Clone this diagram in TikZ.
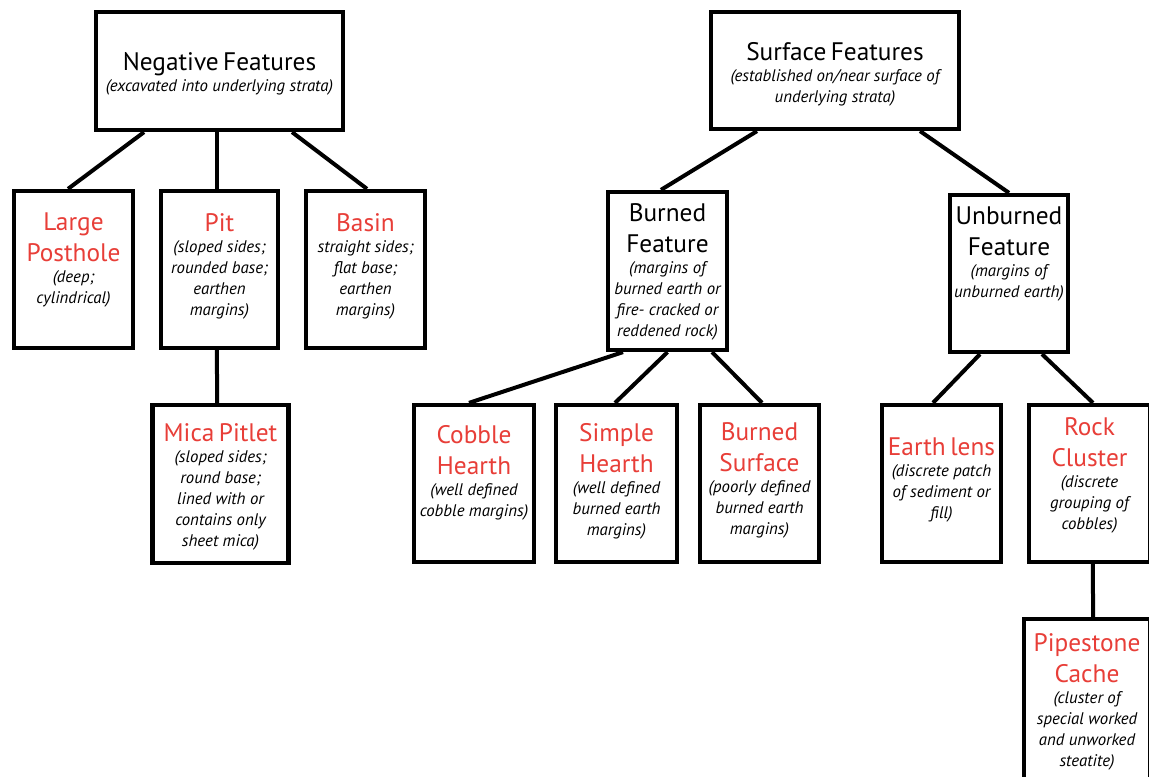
\documentclass[tikz,border=0pt]{standalone}
\usepackage{fontspec}
\setmainfont{PT Sans}
\usepackage{tikz}
\usetikzlibrary{positioning}
\definecolor{featred}{RGB}{232,62,56}
\newcommand\ftitle[1]{{\fontsize{19}{23.25}\selectfont #1\par}}
\newcommand\rtitle[1]{{\color{featred}\ftitle{#1}}}
\newcommand\fnote[1]{{\fontsize{12.6}{15.75}\selectfont\itshape #1\par}}

\begin{document}
\begin{tikzpicture}[x=0.75pt,y=-0.75pt,
  fbox/.style={draw, line width=3.2pt, inner sep=0pt},
  ftext/.style={inner sep=0pt, text width=120pt, align=center},
  link/.style={line width=3pt}]
\useasboundingbox[fill=white] (0,0) rectangle (1149,777);
\clip (0,0) rectangle (1149,777);
% boxes
\node[fbox, minimum width=185.25pt, minimum height=88.5pt] (neg) at (219.5,71) {};
\node[fbox, minimum width=89.25pt, minimum height=117.75pt] (post) at (73.5,269.5) {};
\node[fbox, minimum width=87.75pt, minimum height=117.75pt] (pit) at (219.5,269.5) {};
\node[fbox, minimum width=89.25pt, minimum height=117.75pt] (basin) at (365.5,269.5) {};
\node[fbox, minimum width=102pt, minimum height=118.5pt] (mica) at (220.5,484) {};
\node[fbox, minimum width=186pt, minimum height=87.75pt] (surf) at (835,70.5) {};
\node[fbox, minimum width=89.25pt, minimum height=118.5pt] (burn) at (667.5,271) {};
\node[fbox, minimum width=88.5pt, minimum height=117.75pt] (unb) at (1009,273.5) {};
\node[fbox, minimum width=90pt, minimum height=117.75pt] (cob) at (474,483.5) {};
\node[fbox, minimum width=90.75pt, minimum height=117.75pt] (simp) at (616.5,483.5) {};
\node[fbox, minimum width=89.25pt, minimum height=117.75pt] (bsurf) at (759.5,483.5) {};
\node[fbox, minimum width=89.25pt, minimum height=117.75pt] (earth) at (941.5,483.5) {};
\node[fbox, minimum width=90.75pt, minimum height=117.75pt] (rock) at (1089.5,483.5) {};
\node[fbox, minimum width=94.5pt, minimum height=126.75pt] (pipe) at (1087,703.5) {};
% texts
\node[ftext, text width=185pt, below=31.5pt of neg.north] (neg-t) {\ftitle{Negative Features}\fnote{(excavated into underlying strata)}};
\node[ftext, text width=185pt, below=24pt of surf.north] (surf-t) {\ftitle{Surface Features}\fnote{(established on/near surface of\\underlying strata)}};
\node[ftext, below=18pt of post.north] (post-t) {\rtitle{Large\\Posthole}\fnote{(deep;\\cylindrical)}};
\node[ftext, below=18pt of pit.north] (pit-t) {\rtitle{Pit}\fnote{(sloped sides;\\rounded base;\\earthen\\margins)}};
\node[ftext, below=18pt of basin.north] (basin-t) {\rtitle{Basin}\fnote{straight sides;\\flat base;\\earthen\\margins)}};
\node[ftext, below=15pt of mica.north] (mica-t) {\rtitle{Mica Pitlet}\fnote{(sloped sides;\\round base;\\lined with or\\contains only\\sheet mica)}};
\node[ftext, below=9.75pt of burn.north] (burn-t) {\ftitle{Burned\\Feature}\fnote{(margins of\\burned earth or\\fire- cracked or\\reddened rock)}};
\node[ftext, below=10.5pt of unb.north] (unb-t) {\ftitle{Unburned\\Feature}\fnote{(margins of\\unburned earth)}};
\node[ftext, below=16.5pt of cob.north] (cob-t) {\rtitle{Cobble\\Hearth}\fnote{(well defined\\cobble margins)}};
\node[ftext, below=15pt of simp.north] (simp-t) {\rtitle{Simple\\Hearth}\fnote{(well defined\\burned earth\\margins)}};
\node[ftext, below=14.25pt of bsurf.north] (bsurf-t) {\rtitle{Burned\\Surface}\fnote{(poorly defined\\burned earth\\margins)}};
\node[ftext, below=26.25pt of earth.north] (earth-t) {\rtitle{Earth lens}\fnote{(discrete patch\\of sediment or\\fill)}};
\node[ftext, below=10.5pt of rock.north] (rock-t) {\rtitle{Rock\\Cluster}\fnote{(discrete\\grouping of\\cobbles)}};
\node[ftext, below=12pt of pipe.north] (pipe-t) {\rtitle{Pipestone\\Cache}\fnote{(cluster of\\special worked\\and unworked\\steatite)}};
% connectors
\draw[link] ([xshift=-56.6pt]neg.south) -- ([xshift=-4.1pt]post.north);
\draw[link] ([xshift=-1.9pt]neg.south) -- ([xshift=-1.9pt]pit.north);
\draw[link] ([xshift=54.4pt]neg.south) -- ([xshift=1.1pt]basin.north);
\draw[link] ([xshift=-1.9pt]pit.south) -- ([xshift=-2.6pt]mica.north);
\draw[link] ([xshift=-58.5pt]surf.south) -- ([xshift=-4.9pt]burn.north);
\draw[link] ([xshift=63.8pt]surf.south) -- (unb.north);
\draw[link] ([xshift=-33.4pt]burn.south) -- ([xshift=-3.75pt]cob.north);
\draw[link] (burn.south) -- ([xshift=-1.1pt]simp.north);
\draw[link] ([xshift=33.4pt]burn.south) -- ([xshift=1.9pt]bsurf.north);
\draw[link] ([xshift=-21.75pt]unb.south) -- ([xshift=-6.4pt]earth.north);
\draw[link] ([xshift=24.75pt]unb.south) -- ([xshift=2.6pt]rock.north);
\draw[link] ([xshift=2.6pt]rock.south) -- ([xshift=4.5pt]pipe.north);
\end{tikzpicture}
\end{document}
